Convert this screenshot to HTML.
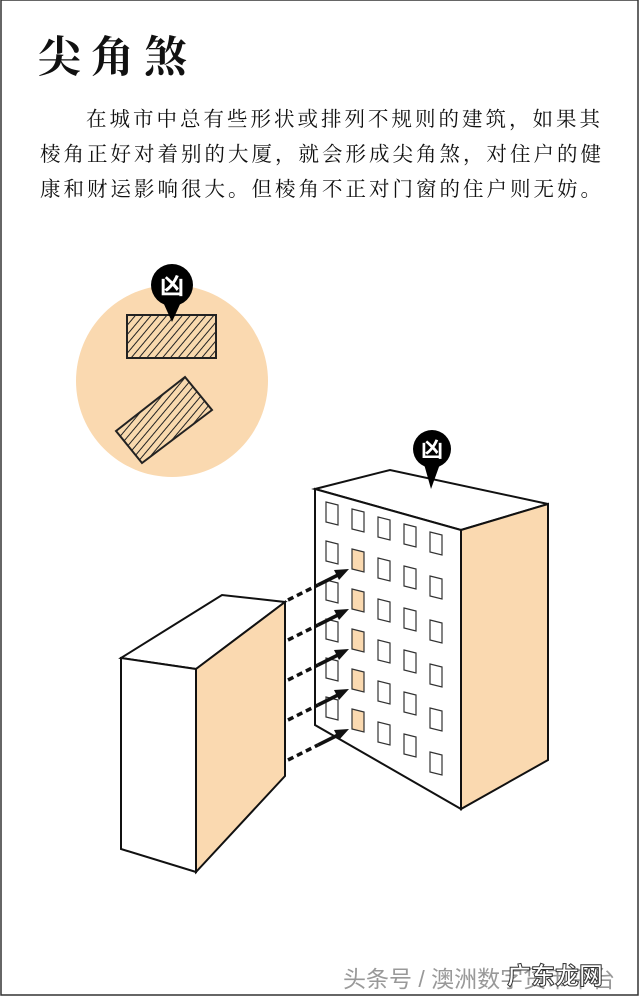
<!DOCTYPE html>
<html><head><meta charset="utf-8"><style>
body{margin:0;background:#fff;}
.wrap{position:relative;width:640px;height:998px;overflow:hidden;background:#fff;}
.t{position:absolute;font-family:"Liberation Serif","Noto Serif CJK SC",serif;color:#111;white-space:nowrap;}
</style></head><body><div class="wrap">
<div class="t" style="left:38px;top:34px;font-size:43px;letter-spacing:10px;font-weight:bold;line-height:50px;">尖角煞</div>
<div class="t" style="left:86px;top:106px;font-size:20.5px;letter-spacing:3px;line-height:28px;">在城市中总有些形状或排列不规则的建筑，如果其</div>
<div class="t" style="left:40px;top:141px;font-size:20.5px;letter-spacing:3px;line-height:28px;">棱角正好对着别的大厦，就会形成尖角煞，对住户的健</div>
<div class="t" style="left:40px;top:176px;font-size:20.5px;letter-spacing:3px;line-height:28px;">康和财运影响很大。但棱角不正对门窗的住户则无妨。</div>
<svg width="640" height="998" style="position:absolute;left:0;top:0" xmlns="http://www.w3.org/2000/svg">
<defs>
<pattern id="h" width="6" height="6" patternUnits="userSpaceOnUse" patternTransform="rotate(40)"><rect width="6" height="6" fill="#f8d9ae"/><line x1="0" y1="0" x2="0" y2="6" stroke="#222" stroke-width="2"/></pattern>
<polygon id="w" points="0,0 12,3 12,23 0,20" stroke="#333" stroke-width="1.2"/>
</defs>
<rect x="1" y="0" width="637" height="995" fill="none" stroke="#333" stroke-width="1.5"/>
<circle cx="172" cy="381" r="96" fill="#fad9b0"/>
<rect x="127" y="315" width="89" height="43" fill="url(#h)" stroke="#222" stroke-width="2"/>
<polygon points="116,431 142,463 212,410 185,377" fill="url(#h)" stroke="#222" stroke-width="2"/>
<g><circle cx="172" cy="285" r="21" fill="#000"/><polygon points="163,302 181,302 172,322" fill="#000"/>
<text x="172" y="294" font-size="24" font-weight="bold" fill="#fff" text-anchor="middle" font-family="Noto Sans CJK SC,sans-serif">凶</text></g>
<polygon points="315,489 390,470 548,504 461,530" fill="#fff" stroke="#111" stroke-width="2"/>
<polygon points="315,489 461,530 461,809 315,725" fill="#fff" stroke="#111" stroke-width="2"/>
<polygon points="461,530 548,504 548,760 461,809" fill="#fad9b0" stroke="#111" stroke-width="2"/>
<g fill="#fff">
<use href="#w" x="326" y="502"/><use href="#w" x="326" y="541"/><use href="#w" x="326" y="580"/><use href="#w" x="326" y="619"/><use href="#w" x="326" y="658"/><use href="#w" x="326" y="697"/>
<use href="#w" x="352" y="509"/>
<use href="#w" x="378" y="517"/><use href="#w" x="378" y="558"/><use href="#w" x="378" y="599"/><use href="#w" x="378" y="640"/><use href="#w" x="378" y="681"/><use href="#w" x="378" y="722"/>
<use href="#w" x="404" y="524"/><use href="#w" x="404" y="566"/><use href="#w" x="404" y="608"/><use href="#w" x="404" y="650"/><use href="#w" x="404" y="692"/><use href="#w" x="404" y="734"/>
<use href="#w" x="430" y="532"/><use href="#w" x="430" y="576"/><use href="#w" x="430" y="620"/><use href="#w" x="430" y="664"/><use href="#w" x="430" y="708"/><use href="#w" x="430" y="752"/>
</g>
<g fill="#fad9b0">
<use href="#w" x="352" y="549" stroke="none"/><use href="#w" x="352" y="589" stroke="none"/><use href="#w" x="352" y="629" stroke="none"/><use href="#w" x="352" y="669" stroke="none"/><use href="#w" x="352" y="709" stroke="none"/>
</g>
<g><circle cx="432" cy="449" r="19" fill="#000"/><polygon points="424,464 440,464 431,489" fill="#000"/>
<text x="432" y="457" font-size="22" font-weight="bold" fill="#fff" text-anchor="middle" font-family="Noto Sans CJK SC,sans-serif">凶</text></g>
<polygon points="121,658 222,595 285,602 196,669" fill="#fff" stroke="#111" stroke-width="2"/>
<polygon points="121,658 196,669 196,872 121,849" fill="#fff" stroke="#111" stroke-width="2"/>
<polygon points="196,669 285,602 285,776 196,872" fill="#fad9b0" stroke="#111" stroke-width="2"/>
<g stroke="#111" stroke-width="3.5" fill="#111">
<g><line x1="288" y1="600" x2="318" y2="585" stroke-dasharray="6,4"/><line x1="318" y1="585" x2="340" y2="574"/><polygon points="349,569 334,570 339,580" stroke="none"/></g>
<g><line x1="288" y1="640" x2="318" y2="625" stroke-dasharray="6,4"/><line x1="318" y1="625" x2="340" y2="614"/><polygon points="349,609 334,610 339,620" stroke="none"/></g>
<g><line x1="288" y1="680" x2="318" y2="665" stroke-dasharray="6,4"/><line x1="318" y1="665" x2="340" y2="654"/><polygon points="349,649 334,650 339,660" stroke="none"/></g>
<g><line x1="288" y1="720" x2="318" y2="705" stroke-dasharray="6,4"/><line x1="318" y1="705" x2="340" y2="694"/><polygon points="349,689 334,690 339,700" stroke="none"/></g>
<g><line x1="288" y1="760" x2="318" y2="745" stroke-dasharray="6,4"/><line x1="318" y1="745" x2="340" y2="734"/><polygon points="349,729 334,730 339,740" stroke="none"/></g>
</g>
</svg>
<div class="t" style="left:343px;top:960px;font-size:23px;color:#999;font-family:'Liberation Sans','Noto Sans CJK SC',sans-serif;">头条号 / 澳洲数字货币平台</div>
<div class="t" style="left:507px;top:956px;font-size:24px;color:#fff;font-weight:bold;-webkit-text-stroke:1px #333;font-family:'Liberation Sans','Noto Sans CJK SC',sans-serif;">广东龙网</div>
</div></body></html>
